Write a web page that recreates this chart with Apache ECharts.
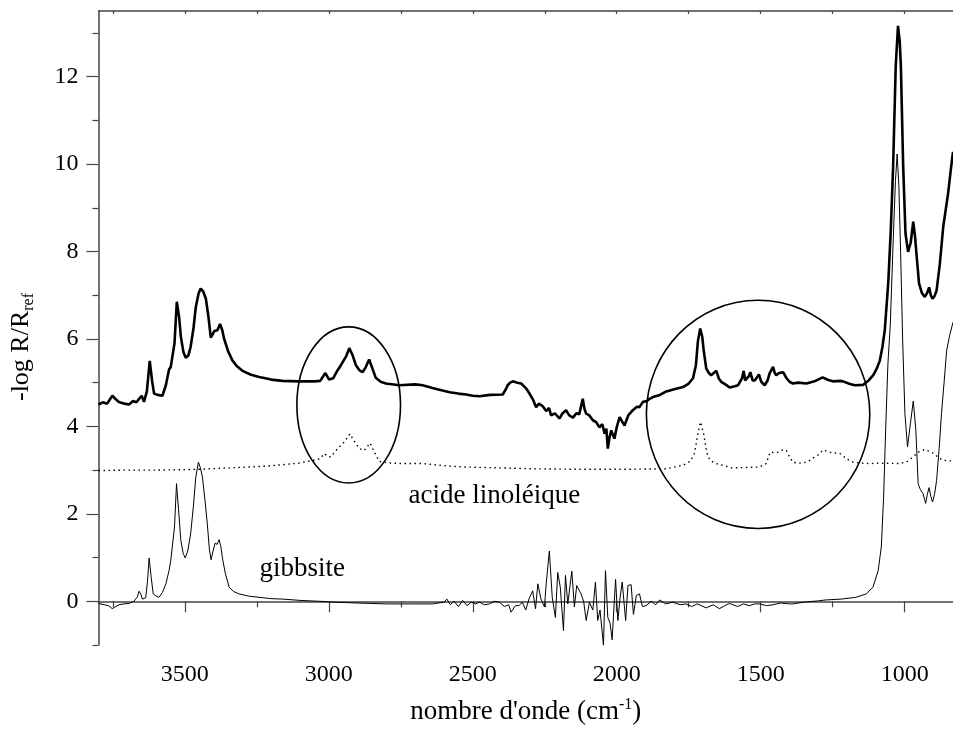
<!DOCTYPE html>
<html><head><meta charset="utf-8">
<script src="https://cdn.jsdelivr.net/npm/echarts@6/dist/echarts.min.js"></script>
<style>html,body{margin:0;padding:0;background:#fff}#c{width:953px;height:733px}</style>
</head><body><div id="c"></div>
<script>
// ---- data (wavenumber cm-1, -log R/Rref) ----
const topX = [3800,3785,3770,3752,3740,3729,3710,3694,3680,3668,3659,3650,3642,3632,3622,3614,3607,3595,3578,3566,3555,3549,3543,3536,3528,3520,3514,3505,3497,3488,3480,3470,3462,3452,3445,3436,3427,3418,3410,3404,3398,3387,3378,3370,3364,3350,3335,3320,3300,3270,3242,3200,3161,3103,3050,3030,3012,2999,2985,2970,2958,2940,2929,2917,2906,2893,2883,2872,2860,2850,2837,2820,2802,2755,2700,2674,2640,2616,2580,2550,2523,2500,2477,2440,2396,2385,2379,2370,2361,2345,2332,2315,2303,2290,2280,2270,2257,2245,2235,2228,2215,2199,2188,2176,2165,2152,2140,2130,2118,2112,2106,2095,2083,2072,2060,2050,2042,2036,2031,2025,2019,2013,2008,2000,1990,1982,1973,1960,1944,1930,1921,1909,1895,1886,1874,1850,1828,1800,1770,1750,1735,1725,1718,1710,1703,1698,1689,1680,1672,1654,1645,1637,1620,1608,1590,1579,1565,1559,1554,1548,1541,1536,1528,1521,1513,1506,1498,1486,1476,1469,1457,1451,1446,1436,1422,1410,1400,1388,1370,1341,1310,1285,1265,1249,1225,1214,1190,1173,1144,1125,1109,1095,1086,1077,1069,1057,1048,1040,1031,1023,1017,1013,1005,997,988,979,970,964,959,950,940,930,922,915,909,903,896,889,878,866,849,840,832];
const topY = [4.50,4.55,4.52,4.70,4.62,4.56,4.52,4.50,4.58,4.55,4.63,4.70,4.56,4.80,5.50,5.05,4.75,4.72,4.70,4.94,5.30,5.36,5.38,5.90,6.85,6.50,6.05,5.70,5.57,5.62,5.82,6.25,6.73,7.05,7.15,7.08,6.92,6.50,6.03,6.10,6.18,6.20,6.34,6.20,6.01,5.72,5.51,5.38,5.27,5.18,5.13,5.07,5.04,5.03,5.03,5.04,5.22,5.07,5.10,5.28,5.40,5.60,5.79,5.62,5.40,5.28,5.24,5.35,5.53,5.35,5.11,5.02,4.98,4.94,4.96,4.94,4.88,4.84,4.78,4.75,4.73,4.70,4.69,4.72,4.73,4.85,4.94,5.00,5.03,5.00,4.98,4.87,4.75,4.60,4.44,4.52,4.46,4.35,4.42,4.25,4.30,4.18,4.30,4.37,4.25,4.20,4.30,4.28,4.63,4.40,4.29,4.25,4.14,4.10,3.98,4.05,3.83,3.95,3.49,3.75,3.91,3.80,3.72,3.98,4.21,4.12,4.02,4.25,4.37,4.45,4.44,4.56,4.58,4.63,4.67,4.72,4.80,4.85,4.90,4.98,5.10,5.40,5.95,6.24,6.05,5.74,5.32,5.22,5.17,5.27,5.09,5.02,4.95,4.89,4.92,4.94,5.10,5.27,5.05,5.02,5.15,5.24,5.05,5.05,5.12,5.19,5.02,4.94,5.05,5.21,5.36,5.22,5.17,5.22,5.24,5.10,5.02,4.98,5.00,4.98,5.04,5.12,5.06,5.03,5.04,5.03,4.97,4.94,4.95,5.05,5.17,5.35,5.51,5.82,6.20,7.27,8.50,9.94,12.23,13.16,12.80,12.23,9.94,8.41,7.99,8.20,8.68,8.35,7.95,7.27,7.05,6.96,7.05,7.18,7.00,6.92,6.98,7.11,7.70,8.56,9.33,9.85,10.28];

const linX = [3800,3700,3600,3500,3445,3350,3219,3150,3103,3057,3030,3016,3005,2993,2975,2964,2945,2927,2910,2894,2877,2865,2857,2845,2825,2800,2755,2674,2600,2523,2400,2292,2150,2060,1950,1828,1770,1745,1730,1718,1709,1698,1690,1683,1670,1654,1600,1504,1481,1467,1452,1437,1424,1411,1400,1388,1370,1353,1330,1300,1283,1255,1225,1200,1179,1150,1121,1086,1017,990,970,950,930,915,901,885,872,850,832];
const linY = [2.99,3.00,3.00,3.01,3.02,3.05,3.09,3.13,3.16,3.22,3.26,3.38,3.32,3.30,3.45,3.53,3.65,3.83,3.65,3.49,3.45,3.55,3.62,3.45,3.20,3.17,3.15,3.15,3.10,3.07,3.05,3.03,3.02,3.02,3.02,3.03,3.11,3.20,3.38,3.83,4.10,3.83,3.50,3.30,3.20,3.15,3.05,3.07,3.15,3.41,3.40,3.41,3.46,3.45,3.30,3.18,3.16,3.16,3.22,3.35,3.46,3.40,3.38,3.25,3.18,3.16,3.15,3.16,3.15,3.20,3.31,3.42,3.47,3.43,3.39,3.30,3.24,3.21,3.21];

const gibX = [3800,3780,3765,3752,3740,3729,3712,3694,3677,3665,3659,3652,3648,3636,3630,3624,3617,3610,3600,3590,3578,3566,3555,3549,3543,3536,3529,3522,3514,3506,3499,3490,3480,3470,3462,3453,3446,3439,3430,3422,3415,3409,3402,3395,3388,3381,3375,3370,3360,3346,3330,3312,3280,3242,3200,3161,3100,3033,2980,2900,2800,2700,2640,2600,2590,2578,2565,2550,2535,2520,2505,2490,2477,2460,2442,2425,2408,2390,2375,2367,2352,2339,2328,2316,2305,2292,2282,2274,2263,2251,2245,2234,2224,2213,2205,2196,2185,2178,2170,2156,2147,2139,2124,2115,2106,2095,2083,2074,2066,2058,2046,2039,2031,2023,2016,2004,1996,1988,1981,1969,1961,1950,1942,1932,1921,1911,1898,1880,1865,1851,1830,1805,1780,1759,1740,1720,1689,1665,1643,1625,1608,1580,1560,1540,1520,1504,1480,1458,1430,1400,1388,1350,1300,1274,1220,1170,1133,1110,1092,1081,1073,1066,1058,1050,1040,1032,1026,1020,1014,1007,999,990,980,970,961,953,945,936,927,921,915,909,903,896,889,880,872,863,854,843,832];
const gibY = [-0.05,-0.08,-0.10,-0.17,-0.12,-0.08,-0.06,-0.05,0.00,0.10,0.23,0.15,0.05,0.08,0.45,0.99,0.55,0.17,0.12,0.09,0.20,0.40,0.70,0.93,0.90,1.70,2.69,2.10,1.39,1.10,0.99,1.15,1.54,2.20,2.84,3.18,3.05,2.84,2.30,1.77,1.20,0.95,1.15,1.33,1.30,1.41,1.25,1.01,0.65,0.32,0.22,0.17,0.12,0.09,0.06,0.05,0.02,0.00,-0.02,-0.04,-0.06,-0.06,-0.06,-0.02,0.05,-0.08,0.00,-0.12,0.02,-0.10,-0.02,-0.06,-0.02,-0.08,-0.06,0.00,-0.02,-0.12,-0.08,-0.25,-0.10,-0.10,-0.02,-0.20,0.05,0.24,-0.17,0.40,0.05,-0.13,0.40,1.15,0.09,-0.37,0.66,0.32,-0.67,0.59,-0.06,0.69,-0.13,0.36,0.17,0.00,-0.44,-0.02,-0.20,0.44,-0.44,-0.20,-1.01,0.70,-0.37,-0.50,-0.88,0.50,-0.44,0.10,0.44,-0.44,0.36,0.38,-0.30,0.13,0.17,-0.12,-0.10,0.00,-0.08,0.03,-0.06,-0.02,-0.08,-0.06,-0.12,-0.06,-0.15,-0.08,-0.17,-0.10,-0.05,-0.12,-0.06,-0.10,-0.06,-0.06,-0.10,-0.08,-0.04,-0.06,-0.06,-0.02,0.01,0.03,0.05,0.09,0.17,0.32,0.70,1.24,2.38,3.91,5.44,6.30,8.20,9.60,10.23,9.50,8.00,6.00,4.29,3.53,4.06,4.58,3.91,2.69,2.55,2.46,2.24,2.45,2.60,2.40,2.27,2.45,2.76,3.50,4.29,5.00,5.74,6.10,6.38];

const xMajorTicks = [1000,1500,2000,2500,3000,3500];
const xMinorTicks = [1250,1750,2250,2750,3250,3750];
const yMajorTicks = [0,2,4,6,8,10,12];
const yMinorTicks = [-1,1,3,5,7,9,11,13];

// annotations in data units
const annoTexts = ['acide linoléique','gibbsite'];
const annoX = [2425,3092];
const annoY = [2.42,0.75];
// ellipses: centre x, centre y, half-width (cm-1), half-height (abs. units)
const ellCx = [2931,1509];
const ellCy = [4.49,4.275];
const ellRx = [180,388];
const ellRy = [1.786,2.61];

const pairs = (xs, ys) => xs.map((x, i) => [x, ys[i]]);
const FONT = 'Liberation Serif';
const AX = '#444';
const plain = v => String(v);

const chart = echarts.init(document.getElementById('c'), null, {renderer: 'canvas'});
const xBase = {type: 'value', inverse: true, min: 832, max: 3800, splitLine: {show: false}, gridIndex: 0};
const yBase = {type: 'value', min: -1, max: 13.5, splitLine: {show: false}, gridIndex: 0};

chart.setOption({
  animation: false,
  backgroundColor: '#fff',
  grid: {left: 98.5, top: 11, right: 0, bottom: 88, containLabel: false, outerBoundsMode: 'none'},
  xAxis: [
    Object.assign({}, xBase, {
      position: 'bottom',
      axisLine: {show: true, lineStyle: {color: AX, width: 1.5}},
      axisTick: {show: true, inside: false, length: 11, customValues: xMajorTicks, lineStyle: {color: AX, width: 1.2}},
      axisLabel: {show: true, customValues: xMajorTicks, formatter: plain, fontFamily: FONT, fontSize: 24, color: '#000', margin: 18},
      name: '{m|nombre d\'onde (cm}{sup|-1}{m|)}',
      nameLocation: 'middle', nameGap: 52,
      nameTextStyle: {fontFamily: FONT, color: '#000', rich: {
        m: {fontFamily: FONT, fontSize: 27, lineHeight: 30, color: '#000'},
        sup: {fontFamily: FONT, fontSize: 16, lineHeight: 16, verticalAlign: 'top', color: '#000'}
      }}
    }),
    Object.assign({}, xBase, {
      position: 'bottom',
      axisLine: {show: false},
      axisTick: {show: true, inside: false, length: 6, customValues: xMinorTicks, lineStyle: {color: AX, width: 1.2}},
      axisLabel: {show: false}
    }),
    Object.assign({}, xBase, {
      position: 'top',
      axisLine: {show: true, lineStyle: {color: AX, width: 1.5}},
      axisTick: {show: true, inside: true, length: 3, customValues: xMajorTicks.concat(xMinorTicks), lineStyle: {color: AX, width: 1.2}},
      axisLabel: {show: false}
    })
  ],
  yAxis: [
    Object.assign({}, yBase, {
      position: 'left',
      axisLine: {show: true, lineStyle: {color: AX, width: 1.5}},
      axisTick: {show: true, inside: false, length: 12, customValues: yMajorTicks, lineStyle: {color: AX, width: 1.2}},
      axisLabel: {show: true, customValues: yMajorTicks, formatter: plain, fontFamily: FONT, fontSize: 24, color: '#000', margin: 20},
      name: '{m|-log R/R}{sub|ref}',
      nameLocation: 'middle', nameRotate: 90, nameGap: 62,
      nameTextStyle: {fontFamily: FONT, color: '#000', padding: [0, 38, 0, 0], rich: {
        m: {fontFamily: FONT, fontSize: 26, lineHeight: 30, color: '#000'},
        sub: {fontFamily: FONT, fontSize: 16, lineHeight: 16, verticalAlign: 'bottom', padding: [24, 0, 0, 0], color: '#000'}
      }}
    }),
    Object.assign({}, yBase, {
      position: 'left',
      axisLine: {show: false},
      axisTick: {show: true, inside: false, length: 6, customValues: yMinorTicks, lineStyle: {color: AX, width: 1.2}},
      axisLabel: {show: false}
    })
  ],
  series: [
    {type: 'line', name: 'échantillon', xAxisIndex: 0, yAxisIndex: 0, data: pairs(topX, topY), showSymbol: false, clip: true,
     lineStyle: {color: '#000', width: 2.6}, z: 5},
    {type: 'line', name: 'acide linoléique', xAxisIndex: 0, yAxisIndex: 0, data: pairs(linX, linY), showSymbol: false, clip: true,
     lineStyle: {color: '#000', width: 1.4, type: [1.5, 3.5]}, z: 4},
    {type: 'line', name: 'gibbsite', xAxisIndex: 0, yAxisIndex: 0, data: pairs(gibX, gibY), showSymbol: false, clip: true,
     lineStyle: {color: '#000', width: 1}, z: 4}
  ]
});

function drawAnnotations() {
  const els = [];
  for (let i = 0; i < ellCx.length; i++) {
    const c = chart.convertToPixel({gridIndex: 0}, [ellCx[i], ellCy[i]]);
    const e = chart.convertToPixel({gridIndex: 0}, [ellCx[i] - ellRx[i], ellCy[i] + ellRy[i]]);
    els.push({type: 'ellipse', shape: {cx: c[0], cy: c[1], rx: Math.abs(e[0] - c[0]), ry: Math.abs(c[1] - e[1])},
      style: {fill: null, stroke: '#000', lineWidth: 1.6}, z: 10, silent: true});
  }
  for (let i = 0; i < annoTexts.length; i++) {
    const p = chart.convertToPixel({gridIndex: 0}, [annoX[i], annoY[i]]);
    els.push({type: 'text', x: p[0], y: p[1], z: 10, silent: true,
      style: {text: annoTexts[i], fontFamily: FONT, fontSize: 27, fill: '#000',
        align: 'center', verticalAlign: 'middle', textAlign: 'center', textVerticalAlign: 'middle'}});
  }
  chart.setOption({graphic: {elements: els}});
}
drawAnnotations();
</script>
</body></html>
